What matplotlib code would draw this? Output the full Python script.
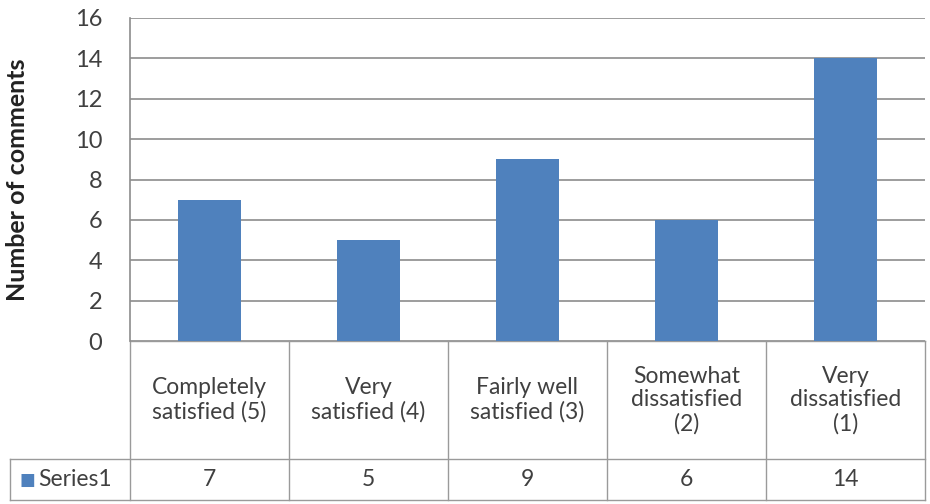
import matplotlib
matplotlib.use("Agg")
import matplotlib.pyplot as plt
import matplotlib.transforms as mtransforms

categories = ["Completely\nsatisfied (5)", "Very\nsatisfied (4)", "Fairly well\nsatisfied (3)",
              "Somewhat\ndissatisfied\n(2)", "Very\ndissatisfied\n(1)"]
comments = [7, 5, 9, 6, 14]
series_name = "Series1"
y_ticks = [0, 2, 4, 6, 8, 10, 12, 14, 16]

bar_color = "#4F81BD"
grid_color = "#8C8C8C"
text_color = "#404040"
plt.rcParams['font.family'] = ['Lato', 'DejaVu Sans']

fig = plt.figure(figsize=(9.3, 5.04), dpi=100)
ax = fig.add_axes([130/930, 1 - 341/504, (925 - 130)/930, (341 - 18)/504])

x = list(range(len(comments)))
ax.bar(x, comments, width=0.4, color=bar_color, zorder=3)
ax.set_xlim(-0.5, len(comments) - 0.5)
ax.set_ylim(0, 16)
ax.set_yticks(y_ticks)
ax.set_yticklabels([str(t) for t in y_ticks], fontsize=17, color=text_color)
ax.tick_params(axis='y', length=0, pad=20)
ax.set_xticks([])
ax.grid(axis='y', color=grid_color, linewidth=1.2, zorder=0)
for side in ['top', 'right', 'bottom']:
    ax.spines[side].set_visible(False)
ax.spines['left'].set_color(grid_color)
ax.spines['left'].set_linewidth(1.2)
ax.set_ylabel("Number of comments", fontsize=18, fontweight='bold', color="#222222")
ax.yaxis.set_label_coords(-101 / 795, 0.5)

# data table under the axis
tr = mtransforms.blended_transform_factory(ax.transData, ax.transAxes)
row1 = -(459 - 341) / 323
row2 = -(500 - 341) / 323
left_edge = -0.5 - 120 / 159
line_kw = dict(color="#9A9A9A", linewidth=1.0, transform=tr, clip_on=False)

ax.plot([-0.5, len(comments) - 0.5], [0, 0], **line_kw)
ax.plot([left_edge, len(comments) - 0.5], [row1, row1], **line_kw)
ax.plot([left_edge, len(comments) - 0.5], [row2, row2], **line_kw)
ax.plot([left_edge, left_edge], [row1, row2], **line_kw)
for k in range(len(comments) + 1):
    ax.plot([k - 0.5, k - 0.5], [0, row2], **line_kw)

for i, (cat, val) in enumerate(zip(categories, comments)):
    ax.text(i, row1 / 2, cat, transform=tr, ha='center', va='center',
            fontsize=16.5, color=text_color, linespacing=1.15)
    ax.text(i, (row1 + row2) / 2, str(val), transform=tr, ha='center', va='center',
            fontsize=16.5, color=text_color)

# legend key for the series row
ax.text(left_edge + 0.06, (row1 + row2) / 2, "\u25A0", transform=tr, ha='left', va='center',
        fontsize=12, color=bar_color, family=['DejaVu Sans'])
ax.text(left_edge + 0.18, (row1 + row2) / 2, series_name, transform=tr, ha='left', va='center',
        fontsize=16.5, color=text_color)

fig.savefig("out.png", dpi=100)
